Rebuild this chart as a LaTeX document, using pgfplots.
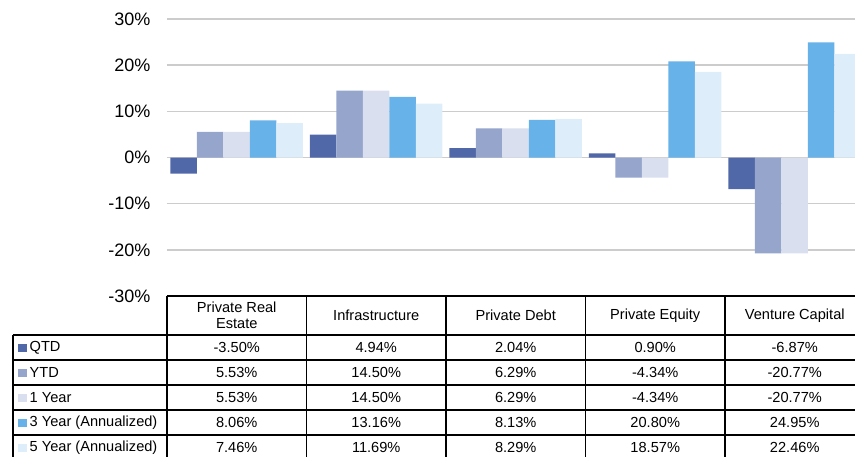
\documentclass[border=0pt]{standalone}
\usepackage{pgfplots}
\pgfplotsset{compat=1.18}
\usepackage{pgfplotstable}
\usepackage{fontspec}
\setmainfont{Liberation Sans}
\definecolor{cQTD}{RGB}{80,104,168}
\definecolor{cYTD}{RGB}{149,165,204}
\definecolor{cOne}{RGB}{217,223,238}
\definecolor{cThree}{RGB}{103,178,232}
\definecolor{cFive}{RGB}{222,237,250}

\pgfplotstableread{
x qtd ytd one three five
0 -3.50 5.53 5.53 8.06 7.46
1 4.94 14.50 14.50 13.16 11.69
2 2.04 6.29 6.29 8.13 8.29
3 0.90 -4.34 -4.34 20.80 18.57
4 -6.87 -20.77 -20.77 24.95 22.46
}\datatable

\newcommand{\tf}{\fontsize{14.6}{16.5}\selectfont}

\begin{document}
\begin{tikzpicture}[x=1pt,y=1pt]
\useasboundingbox (-167,-160) rectangle (688,296);
\begin{axis}[
  at={(0,0)}, anchor=south west, scale only axis,
  width=697.5pt, height=277pt,
  xmin=-0.5, xmax=4.5, ymin=-30, ymax=30,
  ybar=0pt, bar width=26.5pt,
  xtick=\empty,
  ytick={-30,-20,...,30},
  ymajorgrids,
  grid style={line width=1.5pt, color=black!20},
  axis line style={draw=none},
  major tick length=0pt,
  /pgf/number format/assume math mode=true,
  yticklabel={\pgfmathprintnumber{\tick}\%},
  yticklabel style={font=\fontsize{18}{20}\selectfont, inner sep=0pt, xshift=-16.5pt},
]
\addplot[fill=cQTD, draw=none] table[x=x,y=qtd]{\datatable};
\addplot[fill=cYTD, draw=none] table[x=x,y=ytd]{\datatable};
\addplot[fill=cOne, draw=none] table[x=x,y=one]{\datatable};
\addplot[fill=cThree, draw=none] table[x=x,y=three]{\datatable};
\addplot[fill=cFive, draw=none] table[x=x,y=five]{\datatable};
\end{axis}
% table grid
\begin{scope}[line width=1.2pt, black]
\draw (0,0) -- (697.5,0);
\foreach \yy in {-39,-64,-89,-114,-139,-164} \draw (-154,\yy) -- (697.5,\yy);
\draw (-154,-39) -- (-154,-164);
\foreach \xx in {0,139.5,279,418.5,558,697.5} \draw (\xx,0) -- (\xx,-164);
\end{scope}
% headers
\node[font=\tf, align=center] at (69.75,-19.5) {Private Real\\Estate};
\node[font=\tf] at (209.25,-19.5) {Infrastructure};
\node[font=\tf] at (348.75,-19.5) {Private Debt};
\node[font=\tf] at (488.25,-19.5) {Private Equity};
\node[font=\tf] at (627.75,-19.5) {Venture Capital};
% row labels
\foreach \yc/\col/\lab in {-51.5/cQTD/QTD,-76.5/cYTD/YTD,-101.5/cOne/1 Year,-126.5/cThree/3 Year (Annualized),-151.5/cFive/5 Year (Annualized)}{
  \fill[\col] (-149,\yc-4.5) rectangle (-140,\yc+4);
  \node[font=\tf, anchor=west, inner sep=0pt] at (-137.5,\yc) {\lab};
}
% values
\foreach \yc/\a/\b/\c/\d/\e in {
  -51.5/-3.50\%/4.94\%/2.04\%/0.90\%/-6.87\%,
  -76.5/5.53\%/14.50\%/6.29\%/-4.34\%/-20.77\%,
  -101.5/5.53\%/14.50\%/6.29\%/-4.34\%/-20.77\%,
  -126.5/8.06\%/13.16\%/8.13\%/20.80\%/24.95\%,
  -151.5/7.46\%/11.69\%/8.29\%/18.57\%/22.46\%}{
  \node[font=\tf] at (69.75,\yc) {\a};
  \node[font=\tf] at (209.25,\yc) {\b};
  \node[font=\tf] at (348.75,\yc) {\c};
  \node[font=\tf] at (488.25,\yc) {\d};
  \node[font=\tf] at (627.75,\yc) {\e};
}
\end{tikzpicture}
\end{document}
